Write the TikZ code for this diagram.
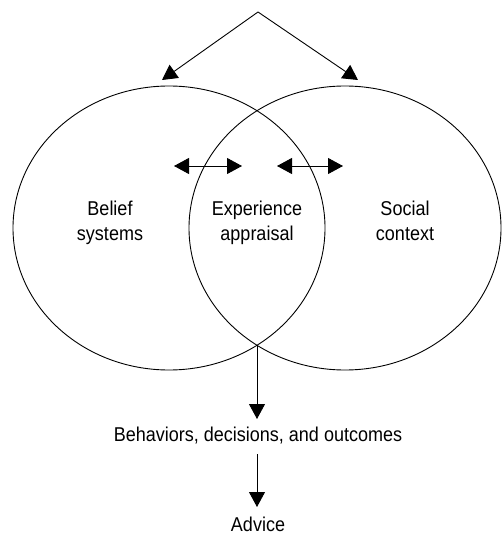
\documentclass[tikz,border=0pt]{standalone}
\usepackage{fontspec}
\setmainfont[FakeStretch=0.9]{Liberation Sans}
\usetikzlibrary{arrows.meta}
\begin{document}
\begin{tikzpicture}[x=1pt,y=-1pt,
  line width=0.9pt,
  arr/.style={-{Triangle[length=15pt,width=16pt]}},
  darr/.style={{Triangle[length=15pt,width=16pt]}-{Triangle[length=15pt,width=16pt]}},
  lbl/.style={font=\fontsize{20}{25}\selectfont, align=center, inner sep=0pt}]
\useasboundingbox (0,0) rectangle (501,534);
\draw (169,228) ellipse [x radius=156, y radius=142];
\draw (345,228) ellipse [x radius=156, y radius=142];
\coordinate (apex) at (258,12);
\coordinate (tl) at (162,80);
\coordinate (tr) at (358,80);
\draw[arr] (apex) -- (tl);
\draw[arr] (apex) -- (tr);
\coordinate (la) at (174,166);
\coordinate (lb) at (242,166);
\coordinate (ra) at (277,166);
\coordinate (rb) at (343,166);
\draw[darr] (la) -- (lb);
\draw[darr] (ra) -- (rb);
\node[lbl] (belief) at (110,222.4) {Belief\\systems};
\node[lbl] (exp) at (257,222.4) {Experience\\appraisal};
\node[lbl] (social) at (405,220.4) {Social\\context};
\coordinate (bottom) at (257,345);
\coordinate (t1) at (257,419);
\coordinate (s2) at (257,454);
\coordinate (t2) at (257,507);
\node[lbl, anchor=base] (beh) at (258,441) {Behaviors, decisions, and outcomes};
\node[lbl, anchor=base] (adv) at (258,531) {Advice};
\draw[arr] (bottom) -- (t1);
\draw[arr] (s2) -- (t2);
\end{tikzpicture}
\end{document}
